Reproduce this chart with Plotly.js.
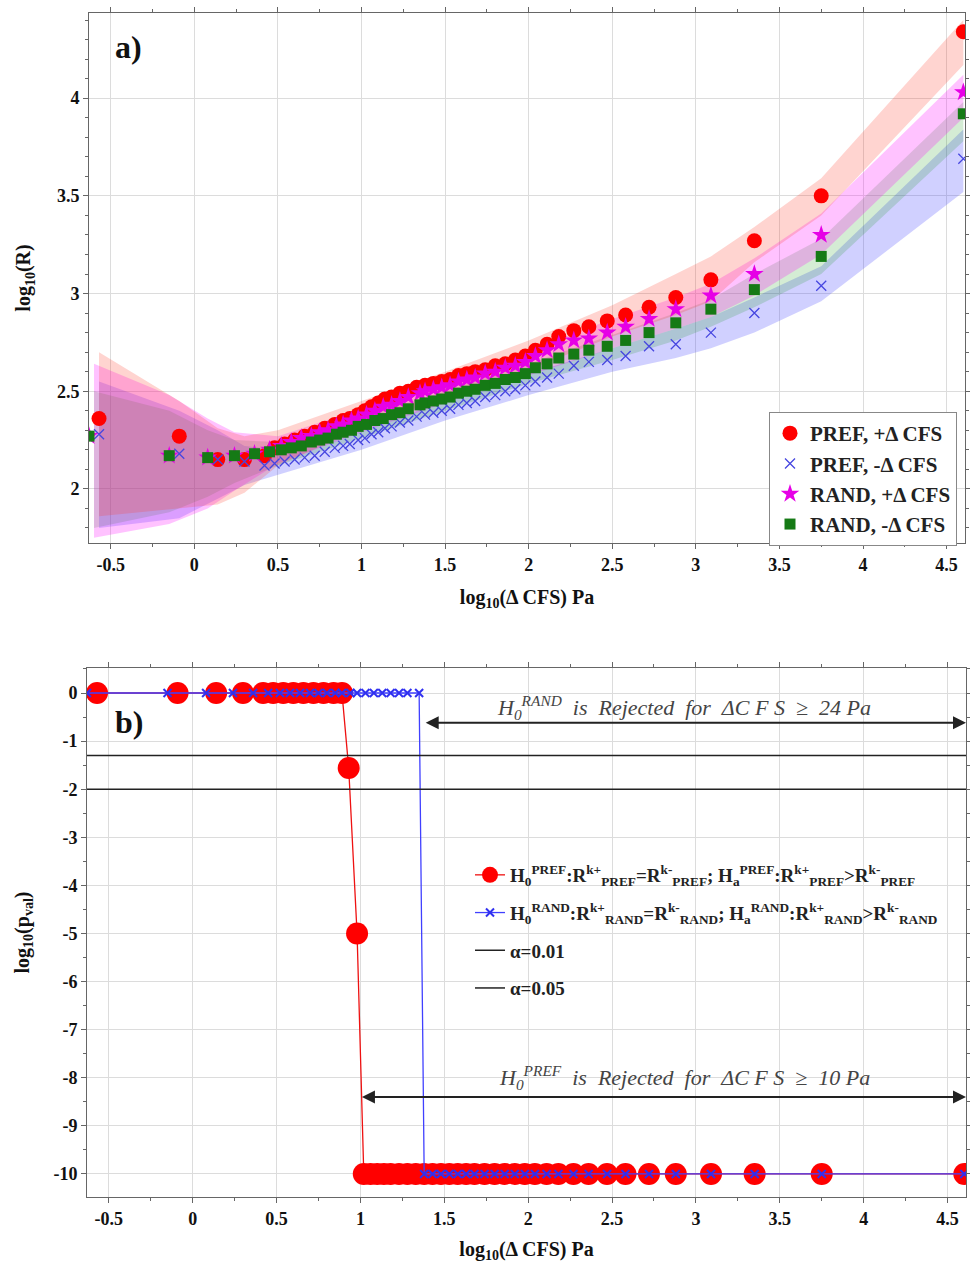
<!DOCTYPE html>
<html>
<head>
<meta charset="utf-8">
<script src="https://cdn.plot.ly/plotly-3.0.1.min.js"></script>
<style>html,body{margin:0;padding:0;background:#fff;}#chart{width:970px;height:1271px;}</style>
</head>
<body>
<div id="chart"></div>
<script>
// ---------- DATA ----------
// log10(ΔCFS) bin positions
const prefX = [-0.57, -0.09, 0.14, 0.30, 0.42, 0.48, 0.54, 0.60, 0.66, 0.72, 0.78, 0.84, 0.89, 0.93, 0.98, 1.02, 1.06, 1.10, 1.14, 1.18, 1.23, 1.28, 1.33, 1.38, 1.43, 1.48, 1.53, 1.58, 1.63, 1.68, 1.74, 1.80, 1.86, 1.92, 1.98, 2.04, 2.11, 2.18, 2.27, 2.36, 2.47, 2.58, 2.72, 2.88, 3.09, 3.35, 3.75, 4.60];
const randX = [-0.63, -0.15, 0.08, 0.24, 0.36, 0.45, 0.52, 0.58, 0.64, 0.70, 0.75, 0.80, 0.85, 0.89, 0.94, 0.98, 1.03, 1.08, 1.13, 1.18, 1.23, 1.28, 1.35, 1.38, 1.43, 1.48, 1.53, 1.58, 1.63, 1.68, 1.74, 1.80, 1.86, 1.92, 1.98, 2.04, 2.11, 2.18, 2.27, 2.36, 2.47, 2.58, 2.72, 2.88, 3.09, 3.35, 3.75, 4.60];

// panel a: log10(R)
const prefPlusR  = [2.36, 2.27, 2.15, 2.15, 2.17, 2.21, 2.23, 2.25, 2.27, 2.29, 2.31, 2.33, 2.35, 2.36, 2.38, 2.40, 2.42, 2.44, 2.46, 2.47, 2.49, 2.50, 2.52, 2.53, 2.54, 2.55, 2.56, 2.58, 2.59, 2.60, 2.61, 2.63, 2.64, 2.66, 2.68, 2.71, 2.74, 2.78, 2.81, 2.83, 2.86, 2.89, 2.93, 2.98, 3.07, 3.27, 3.50, 4.34];
const prefMinusR = [2.28, 2.18, 2.15, 2.14, 2.12, 2.13, 2.14, 2.15, 2.16, 2.17, 2.19, 2.21, 2.22, 2.23, 2.25, 2.26, 2.28, 2.29, 2.31, 2.32, 2.34, 2.35, 2.37, 2.38, 2.39, 2.40, 2.41, 2.43, 2.44, 2.45, 2.47, 2.48, 2.50, 2.51, 2.53, 2.55, 2.57, 2.59, 2.63, 2.65, 2.66, 2.68, 2.73, 2.74, 2.80, 2.90, 3.04, 3.69];
const randPlusR  = [2.27, 2.17, 2.16, 2.17, 2.18, 2.20, 2.22, 2.24, 2.26, 2.27, 2.29, 2.30, 2.32, 2.33, 2.35, 2.36, 2.38, 2.40, 2.42, 2.43, 2.45, 2.47, 2.49, 2.50, 2.51, 2.52, 2.53, 2.55, 2.56, 2.57, 2.59, 2.60, 2.62, 2.63, 2.65, 2.68, 2.71, 2.74, 2.76, 2.77, 2.80, 2.83, 2.87, 2.92, 2.99, 3.10, 3.30, 4.03];
const randMinusR = [2.27, 2.17, 2.16, 2.17, 2.18, 2.19, 2.20, 2.21, 2.22, 2.24, 2.25, 2.26, 2.28, 2.29, 2.30, 2.32, 2.33, 2.35, 2.36, 2.38, 2.39, 2.41, 2.43, 2.44, 2.45, 2.46, 2.47, 2.49, 2.50, 2.51, 2.53, 2.54, 2.56, 2.57, 2.59, 2.62, 2.64, 2.67, 2.69, 2.71, 2.73, 2.76, 2.80, 2.85, 2.92, 3.02, 3.19, 3.92];

// confidence bands (panel a)
const bandXPref = [-0.57, -0.09, 0.14, 0.30, 0.50, 1.00, 1.50, 2.00, 2.50, 2.88, 3.09, 3.35, 3.75, 4.60];
const bandXRand = [-0.60, -0.15, 0.08, 0.24, 0.50, 1.00, 1.50, 2.00, 2.50, 2.88, 3.09, 3.35, 3.75, 4.60];
const prefPlusHi  = [2.70, 2.45, 2.31, 2.27, 2.30, 2.45, 2.60, 2.76, 2.94, 3.10, 3.19, 3.34, 3.59, 4.40];
const prefPlusLo  = [1.86, 1.90, 1.92, 1.98, 2.12, 2.31, 2.47, 2.61, 2.78, 2.89, 2.96, 3.16, 3.40, 4.17];
const prefMinusHi = [2.55, 2.40, 2.30, 2.22, 2.20, 2.30, 2.45, 2.59, 2.72, 2.82, 2.88, 2.98, 3.14, 3.84];
const prefMinusLo = [1.80, 1.85, 1.95, 2.02, 2.07, 2.20, 2.35, 2.48, 2.60, 2.67, 2.72, 2.80, 2.96, 3.52];
const randPlusHi  = [2.64, 2.48, 2.36, 2.29, 2.27, 2.41, 2.56, 2.71, 2.87, 2.98, 3.05, 3.18, 3.41, 4.12];
const randPlusLo  = [1.75, 1.82, 1.90, 1.99, 2.13, 2.29, 2.44, 2.58, 2.72, 2.82, 2.88, 2.99, 3.20, 3.90];
const randMinusHi = [2.50, 2.40, 2.30, 2.25, 2.24, 2.37, 2.50, 2.64, 2.79, 2.90, 2.97, 3.10, 3.28, 3.98];
const randMinusLo = [1.80, 1.88, 1.96, 2.03, 2.12, 2.26, 2.40, 2.54, 2.66, 2.76, 2.83, 2.93, 3.10, 3.78];

// panel b: log10(p-value)
const prefP = [0, 0, 0, 0, 0, 0, 0, 0, 0, 0, 0, 0, 0, -1.56, -5.0, -10, -10, -10, -10, -10, -10, -10, -10, -10, -10, -10, -10, -10, -10, -10, -10, -10, -10, -10, -10, -10, -10, -10, -10, -10, -10, -10, -10, -10, -10, -10, -10, -10];
const randP = [0, 0, 0, 0, 0, 0, 0, 0, 0, 0, 0, 0, 0, 0, 0, 0, 0, 0, 0, 0, 0, 0, 0, -10, -10, -10, -10, -10, -10, -10, -10, -10, -10, -10, -10, -10, -10, -10, -10, -10, -10, -10, -10, -10, -10, -10, -10, -10];
const alphaLevels = [0.01, 0.05];
const rejectPa = {RAND: 24, PREF: 10};

// tick labels
const xTickVals = [-0.5, 0, 0.5, 1, 1.5, 2, 2.5, 3, 3.5, 4, 4.5];
const xTickText = ['-0.5', '0', '0.5', '1', '1.5', '2', '2.5', '3', '3.5', '4', '4.5'];
const yaTickVals = [2, 2.5, 3, 3.5, 4];
const yaTickText = ['2', '2.5', '3', '3.5', '4'];
const ybTickVals = [0, -1, -2, -3, -4, -5, -6, -7, -8, -9, -10];
const ybTickText = ['0', '-1', '-2', '-3', '-4', '-5', '-6', '-7', '-8', '-9', '-10'];

const legendANames = ['PREF, +Δ CFS', 'PREF, -Δ CFS', 'RAND, +Δ CFS', 'RAND, -Δ CFS'];

// ---------- STYLE ----------
const SERIF = 'Liberation Serif, Times New Roman, serif';
const xRange = [-0.63, 4.61];

function band(xs, hi, lo, color, xa, ya) {
  return {x: xs.concat(xs.slice().reverse()), y: hi.concat(lo.slice().reverse()),
    type: 'scatter', mode: 'lines', fill: 'toself', fillcolor: color,
    line: {width: 0, color: color}, hoverinfo: 'skip', showlegend: false, xaxis: xa, yaxis: ya};
}

const traces = [
  band(bandXPref, prefMinusHi, prefMinusLo, 'rgba(60,60,255,0.24)', 'x', 'y'),
  band(bandXRand, randMinusHi, randMinusLo, 'rgba(0,140,0,0.17)', 'x', 'y'),
  band(bandXRand, randPlusHi, randPlusLo, 'rgba(255,0,255,0.24)', 'x', 'y'),
  band(bandXPref, prefPlusHi, prefPlusLo, 'rgba(255,60,40,0.22)', 'x', 'y'),
  {x: prefX, y: prefPlusR, type: 'scatter', mode: 'markers', name: legendANames[0],
   marker: {symbol: 'circle', size: 15, color: '#ff0000'}, legend: 'legend'},
  {x: prefX, y: prefMinusR, type: 'scatter', mode: 'markers', name: legendANames[1],
   marker: {symbol: 'x-thin-open', size: 10, color: '#4646e0', line: {color: '#4646e0', width: 1.3}}, legend: 'legend'},
  {x: randX, y: randPlusR, type: 'scatter', mode: 'markers', name: legendANames[2],
   marker: {symbol: 'star', size: 14, color: '#e600e6'}, legend: 'legend'},
  {x: randX, y: randMinusR, type: 'scatter', mode: 'markers', name: legendANames[3],
   marker: {symbol: 'square', size: 11, color: '#157a15'}, legend: 'legend'},
  // panel b
  {x: prefX, y: prefP, type: 'scatter', mode: 'lines+markers', xaxis: 'x2', yaxis: 'y2', legend: 'legend2', legendgroup: 'g1',
   name: 'H<sub>0</sub><sup>PREF</sup>:R<sup>k+</sup><sub>PREF</sub>=R<sup>k-</sup><sub>PREF</sub>; H<sub>a</sub><sup>PREF</sup>:R<sup>k+</sup><sub>PREF</sub>>R<sup>k-</sup><sub>PREF</sub>',
   marker: {symbol: 'circle', size: 22, color: '#ff0000'}, line: {color: '#ee1111', width: 1.3}},
  {x: randX, y: randP, type: 'scatter', mode: 'lines+markers', xaxis: 'x2', yaxis: 'y2', legend: 'legend2', legendgroup: 'g2',
   name: 'H<sub>0</sub><sup>RAND</sup>:R<sup>k+</sup><sub>RAND</sub>=R<sup>k-</sup><sub>RAND</sub>; H<sub>a</sub><sup>RAND</sup>:R<sup>k+</sup><sub>RAND</sub>>R<sup>k-</sup><sub>RAND</sub>',
   marker: {symbol: 'x-thin-open', size: 8, color: '#3030f0', line: {color: '#3030f0', width: 2}}, line: {color: '#4040ff', width: 1.3}}
];
alphaLevels.forEach((a, i) => {
  traces.push({x: xRange, y: [Math.log10(a), Math.log10(a)], type: 'scatter', mode: 'lines',
    xaxis: 'x2', yaxis: 'y2', legend: 'legend2', legendgroup: 'a' + i, name: 'α=' + a.toFixed(2),
    line: {color: '#222', width: 1.5}});
});

const tickFont = {family: SERIF, size: 18, color: '#111', weight: 'bold'};
const titleFont = {family: SERIF, size: 20, color: '#111', weight: 'bold'};
function axis(extra) {
  return Object.assign({
    showline: true, linecolor: '#666', linewidth: 1, mirror: 'ticks',
    ticks: 'outside', ticklen: 5, tickcolor: '#666', tickwidth: 1,
    showgrid: true, gridcolor: '#dcdcdc', gridwidth: 1, zeroline: false,
    tickfont: tickFont, automargin: false, fixedrange: true, tickmode: 'array'
  }, extra);
}

const xTitle = 'log<sub>10</sub>(Δ CFS) Pa';
const layout = {
  width: 970, height: 1271,
  margin: {l: 0, r: 0, t: 0, b: 0},
  paper_bgcolor: '#fff', plot_bgcolor: '#fff',
  xaxis: axis({domain: [89/970, 965/970], range: xRange, tickvals: xTickVals, ticktext: xTickText, anchor: 'y',
    minor: {dtick: 0.25, tick0: 0, ticks: 'outside', ticklen: 3, tickcolor: '#666', showgrid: false},
    title: {text: xTitle, font: titleFont, standoff: 16}}),
  yaxis: axis({domain: [1 - 543/1271, 1 - 13/1271], range: [1.723, 4.436], tickvals: yaTickVals, ticktext: yaTickText, anchor: 'x',
    minor: {dtick: 0.1, tick0: 0, ticks: 'outside', ticklen: 3, tickcolor: '#666', showgrid: false},
    title: {text: 'log<sub>10</sub>(R)', font: titleFont, standoff: 20}}),
  xaxis2: axis({domain: [87/970, 966/970], range: xRange, tickvals: xTickVals, ticktext: xTickText, anchor: 'y2',
    minor: {dtick: 0.25, tick0: 0, ticks: 'outside', ticklen: 3, tickcolor: '#666', showgrid: false},
    title: {text: xTitle, font: titleFont, standoff: 14}}),
  yaxis2: axis({domain: [1 - 1197/1271, 1 - 668/1271], range: [-10.48, 0.52], tickvals: ybTickVals, ticktext: ybTickText, anchor: 'x2',
    minor: {dtick: 0.5, tick0: 0, ticks: 'outside', ticklen: 3, tickcolor: '#666', showgrid: false},
    title: {text: 'log<sub>10</sub>(p<sub>val</sub>)', font: titleFont, standoff: 18}}),
  legend: {x: 769/970, y: 1 - 412/1271, xanchor: 'left', yanchor: 'top',
    bgcolor: '#fff', bordercolor: '#888', borderwidth: 1,
    font: {family: SERIF, size: 21, color: '#222', weight: 'bold'}, itemwidth: 30},
  legend2: {x: 470/970, y: 1 - 856/1271, xanchor: 'left', yanchor: 'top',
    bgcolor: 'rgba(0,0,0,0)', borderwidth: 0, tracegroupgap: 10,
    font: {family: SERIF, size: 19, color: '#222', weight: 'bold'}, itemwidth: 30},
  annotations: [
    {text: '<b>a)</b>', xref: 'paper', yref: 'paper', x: 113/970, y: 1 - 47/1271, xanchor: 'left', yanchor: 'middle',
     showarrow: false, font: {family: SERIF, size: 32, color: '#111'}},
    {text: '<b>b)</b>', xref: 'paper', yref: 'paper', x: 113/970, y: 1 - 722/1271, xanchor: 'left', yanchor: 'middle',
     showarrow: false, font: {family: SERIF, size: 32, color: '#111'}},
    {text: '', xref: 'x2', yref: 'y2', axref: 'x2', ayref: 'y2', x: xRange[1], y: -0.62,
     ax: Math.log10(rejectPa.RAND), ay: -0.62, showarrow: true, arrowhead: 2, startarrowhead: 2,
     arrowside: 'end+start', arrowsize: 1.3, startarrowsize: 1.3, arrowwidth: 2, arrowcolor: '#222', standoff: 0, startstandoff: 0},
    {text: '', xref: 'x2', yref: 'y2', axref: 'x2', ayref: 'y2', x: xRange[1], y: -8.4,
     ax: Math.log10(rejectPa.PREF), ay: -8.4, showarrow: true, arrowhead: 2, startarrowhead: 2,
     arrowside: 'end+start', arrowsize: 1.3, startarrowsize: 1.3, arrowwidth: 2, arrowcolor: '#222', standoff: 0, startstandoff: 0},
    {text: '<i>H<sub>0</sub><sup>RAND</sup>  is  Rejected  for  ΔC F S  ≥  ' + rejectPa.RAND + ' Pa</i>', xref: 'x2', yref: 'y2',
     x: 2.93, y: -0.31, showarrow: false, font: {family: SERIF, size: 22, color: '#444'}},
    {text: '<i>H<sub>0</sub><sup>PREF</sup>  is  Rejected  for  ΔC F S  ≥  ' + rejectPa.PREF + ' Pa</i>', xref: 'x2', yref: 'y2',
     x: 2.93, y: -8.0, showarrow: false, font: {family: SERIF, size: 22, color: '#444'}}
  ]
};

Plotly.newPlot('chart', traces, layout, {displayModeBar: false, staticPlot: true});
</script>
</body>
</html>
